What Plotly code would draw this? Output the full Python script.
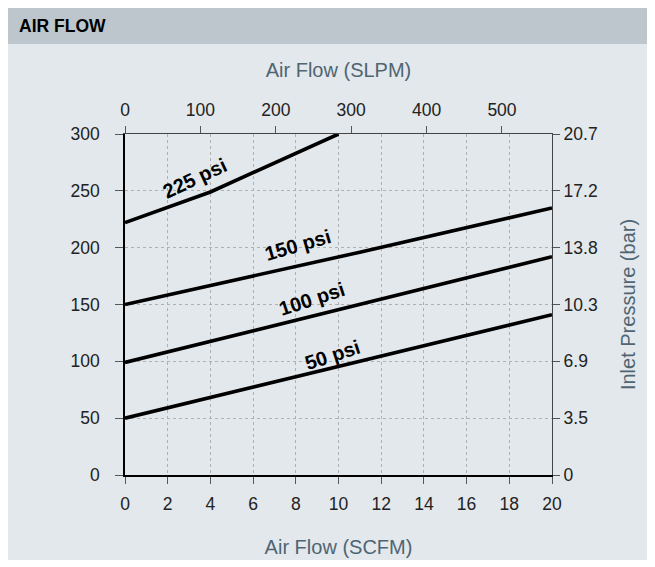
import plotly.graph_objects as go

# ---- data (x: Air Flow SCFM, y: Inlet Pressure psi) ----
x_50 = [0, 20]
y_50 = [50, 141]
x_100 = [0, 20]
y_100 = [99, 192]
x_150 = [0, 11, 20]
y_150 = [150, 196, 235]
x_225 = [0, 4, 10]
y_225 = [222, 249, 300]

curve_names = ["50 psi", "100 psi", "150 psi", "225 psi"]
label_x = [9.7, 8.75, 8.1, 3.3]
label_y = [106, 155, 202, 261]
label_angle = [-18, -18, -16, -25]

scfm_ticks = [0, 2, 4, 6, 8, 10, 12, 14, 16, 18, 20]
psi_ticks = [0, 50, 100, 150, 200, 250, 300]
slpm_ticks = [0, 100, 200, 300, 400, 500]
bar_ticktext = ["0", "3.5", "6.9", "10.3", "13.8", "17.2", "20.7"]

SCFM_TO_SLPM = 28.3168
PSI_TO_BAR = 0.0689476

FONT = "Liberation Sans, Arial, Helvetica, sans-serif"
TITLE_COLOR = "#4f6572"
TICK_COLOR = "#222222"
GRID = "#b0b0b0"

ML, MR, MT, MB = 117, 111, 126, 100
W, H = 655, 567

fig = go.Figure()
for xs, ys in [(x_50, y_50), (x_100, y_100), (x_150, y_150), (x_225, y_225)]:
    fig.add_trace(go.Scatter(x=xs, y=ys, mode="lines",
                             line=dict(color="black", width=3.6),
                             showlegend=False, hoverinfo="skip"))
# invisible traces to anchor the secondary axes
fig.add_trace(go.Scatter(x=[0, 20 * SCFM_TO_SLPM], y=[0, 0], xaxis="x2", yaxis="y",
                         mode="markers", marker=dict(opacity=0), showlegend=False,
                         hoverinfo="skip"))
fig.add_trace(go.Scatter(x=[0, 0], y=[0, 300 * PSI_TO_BAR], xaxis="x", yaxis="y2",
                         mode="markers", marker=dict(opacity=0), showlegend=False,
                         hoverinfo="skip"))

for name, lx, ly, ang in zip(curve_names, label_x, label_y, label_angle):
    fig.add_annotation(x=lx, y=ly, xref="x", yref="y", text=name, showarrow=False,
                       textangle=ang,
                       font=dict(family=FONT, size=20, color="black", weight="bold"))

tickfont = dict(family=FONT, size=17.5, color=TICK_COLOR)
titlefont = dict(family=FONT, size=20, color=TITLE_COLOR)

fig.update_layout(
    width=W, height=H,
    margin=dict(l=ML, r=MR, t=MT, b=MB, autoexpand=False),
    paper_bgcolor="white",
    plot_bgcolor="white",
    showlegend=False,
    xaxis=dict(range=[0, 20], tickvals=scfm_ticks, ticks="outside", ticklen=7,
               tickcolor="#555555", tickwidth=1.2,
               showline=True, linecolor="black", linewidth=1.6,
               showgrid=True, gridcolor=GRID, griddash="3px,3px", gridwidth=1,
               zeroline=False, tickfont=tickfont, ticklabelstandoff=5,
               title=dict(text="Air Flow (SCFM)", font=titlefont, standoff=27),
               fixedrange=True),
    xaxis2=dict(range=[0, 20 * SCFM_TO_SLPM], tickvals=slpm_ticks, overlaying="x",
                side="top", anchor="y", ticks="outside", ticklen=7,
                tickcolor="#555555", tickwidth=1.2,
                showline=True, linecolor="#444444", linewidth=1.2,
                showgrid=False, zeroline=False, tickfont=tickfont,
                ticklabelstandoff=3,
                title=dict(text="Air Flow (SLPM)", font=titlefont, standoff=16),
                fixedrange=True),
    yaxis=dict(range=[0, 300], tickvals=psi_ticks, ticks="outside", ticklen=8,
               tickcolor="#555555", tickwidth=1.2,
               showline=True, linecolor="black", linewidth=1.6,
               showgrid=True, gridcolor=GRID, griddash="3px,3px", gridwidth=1,
               zeroline=False, tickfont=tickfont, ticklabelstandoff=12,
               fixedrange=True),
    yaxis2=dict(range=[0, 300 * PSI_TO_BAR],
                tickvals=[p * PSI_TO_BAR for p in psi_ticks], ticktext=bar_ticktext,
                overlaying="y", side="right", anchor="x", ticks="outside", ticklen=7,
                tickcolor="#555555", tickwidth=1.2,
                showline=True, linecolor="#444444", linewidth=1.2,
                showgrid=False, zeroline=False, tickfont=tickfont,
                title=dict(text="Inlet Pressure (bar)", font=titlefont, standoff=24),
                fixedrange=True),
)

# background panels in pixel-derived paper coordinates
pw = W - ML - MR
ph = H - MT - MB
def px_x(px):
    return (px - ML) / pw
def px_y(py):
    return (H - MB - py) / ph

fig.add_shape(type="rect", xref="paper", yref="paper", layer="below",
              x0=px_x(0), x1=px_x(W), y0=px_y(552), y1=px_y(36),
              line=dict(width=0), fillcolor="#e3e8ec")
fig.add_shape(type="rect", xref="paper", yref="paper", layer="below",
              x0=px_x(0), x1=px_x(W), y0=px_y(36), y1=px_y(0),
              line=dict(width=0), fillcolor="#bcc6cc")
fig.add_annotation(xref="paper", yref="paper", x=px_x(9), y=px_y(18),
                   xanchor="left", yanchor="middle", showarrow=False,
                   text="AIR FLOW",
                   font=dict(family=FONT, size=17.5, color="black", weight="bold"))

fig.write_html("out.html")
